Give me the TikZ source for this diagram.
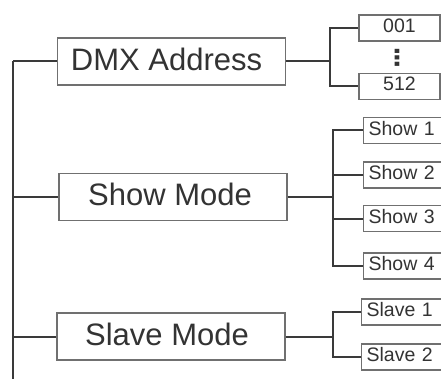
\documentclass[tikz,border=0pt]{standalone}
\usepackage{fontspec}
\setmainfont{Liberation Sans}
\newfontfamily\dejavu{DejaVu Sans}
\definecolor{ink}{HTML}{333333}
\definecolor{wire}{HTML}{3A3A3A}
\definecolor{frame}{HTML}{707070}
\begin{document}
\begin{tikzpicture}[x=1pt,y=-1pt,
  bigbox/.style={draw=frame,line width=1.3pt,rectangle,minimum width=228pt,minimum height=47pt,
    inner sep=0pt,text=ink,font=\fontsize{31}{34}\selectfont,text depth=5pt},
  smallbox/.style={draw=frame,line width=1.2pt,rectangle,minimum height=26pt,inner sep=0pt,
    text=ink,font=\fontsize{19.5}{22}\selectfont,text depth=5pt},
  numbox/.style={smallbox,minimum width=81pt},
  leafbox/.style={smallbox,anchor=west,minimum width=84pt,text width=78pt,align=left,inner xsep=5pt},
  wireline/.style={draw=wire,line width=2pt}]
\useasboundingbox (0,0) rectangle (441,379);
\clip (0,0) rectangle (441,379);
% main boxes
\node[bigbox] (dmx) at (171.5,61.5) {DMX Address\hspace*{10pt}};
\node[bigbox] (show) at (173,197) {Show Mode\hspace*{6pt}};
\node[bigbox] (slave) at (171,336.5) {Slave Mode\hspace*{8pt}};
% trunk
\coordinate (top) at (13,61.5);
\coordinate (bot) at (13,381);
\draw[wireline] (top) -- (bot);
\draw[wireline] (top) -- (dmx.west);
\draw[wireline] (top |- show.west) -- (show.west);
\draw[wireline] (top |- slave.west) -- (slave.west);
% DMX branch
\node[numbox] (n001) at (399.5,28) {001};
\node[numbox] (n512) at (399.5,86.5) {512};
\node[text=ink,font=\dejavu\bfseries\fontsize{22}{22}\selectfont,inner sep=0pt] (dots) at (397,58) {\scalebox{1.2}[1]{⋮}};
\coordinate (fa) at (330,61.5);
\draw[wireline] (dmx.east) -- (fa);
\draw[wireline] (n001.west) -| (fa) |- (n512.west);
% Show branch
\node[leafbox] (s1) at (363,130.5) {Show 1};
\node[leafbox] (s2) at (363,175) {Show 2};
\node[leafbox] (s3) at (363,218.5) {Show 3};
\node[leafbox] (s4) at (363,266) {Show 4};
\coordinate (fb) at (333,197);
\draw[wireline] (show.east) -- (fb);
\draw[wireline] (s1.west) -| (fb) |- (s4.west);
\draw[wireline] (s2.west) -- (s2.west -| fb);
\draw[wireline] (s3.west) -- (s3.west -| fb);
% Slave branch
\node[leafbox,text width=80pt,minimum width=86pt] (v1) at (361,312) {Slave 1};
\node[leafbox,text width=80pt,minimum width=86pt] (v2) at (361,357) {Slave 2};
\coordinate (fc) at (333,336.5);
\draw[wireline] (slave.east) -- (fc);
\draw[wireline] (v1.west) -| (fc) |- (v2.west);
\end{tikzpicture}
\end{document}
